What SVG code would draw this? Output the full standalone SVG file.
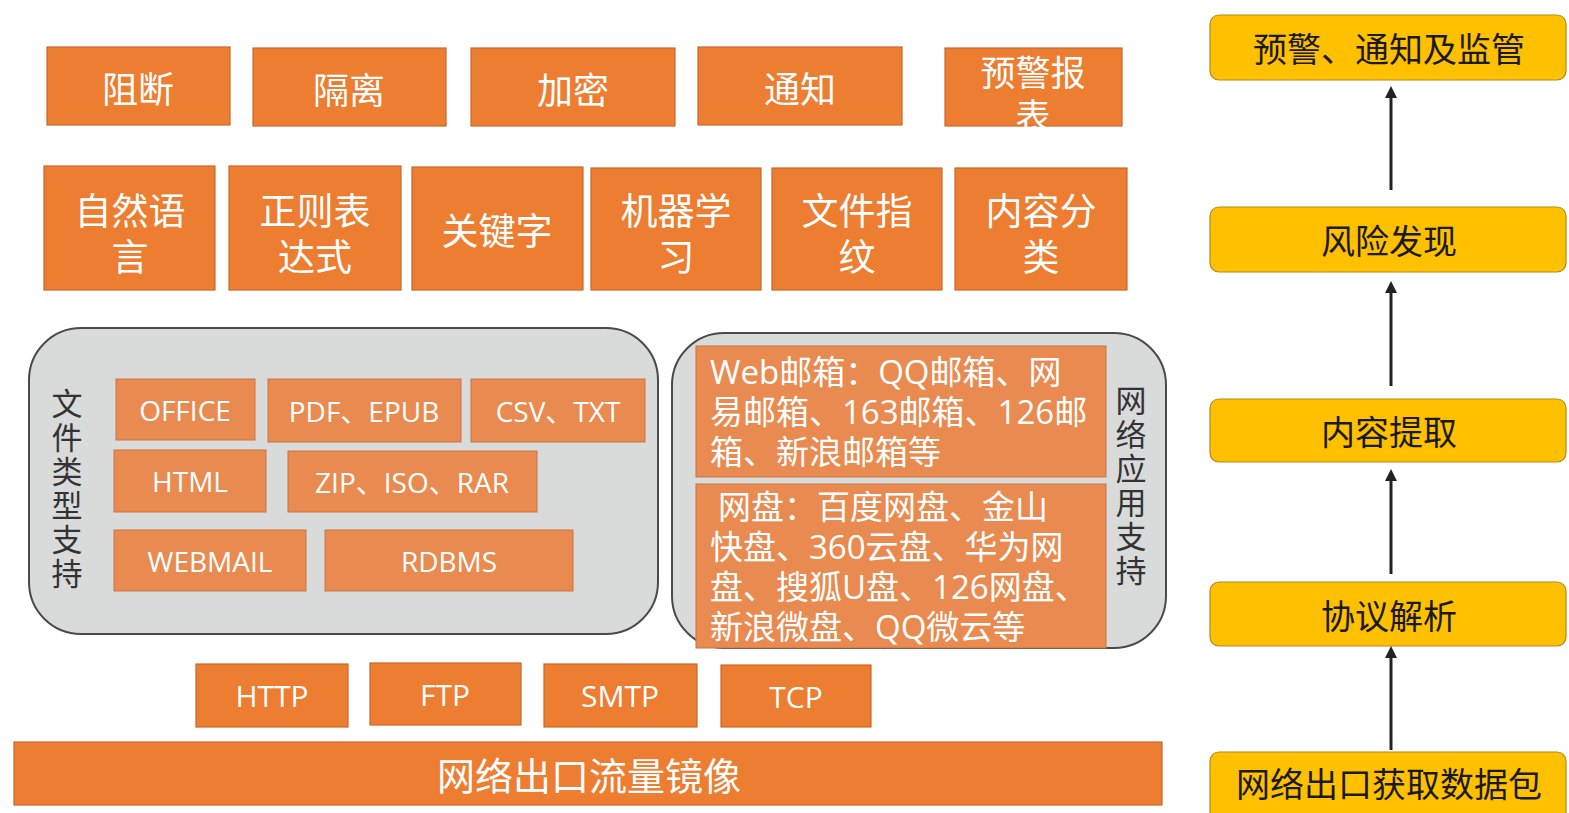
<svg xmlns="http://www.w3.org/2000/svg" width="1569" height="813" viewBox="0 0 1569 813">
<style>
.ob{fill:#ED7D31;stroke:#c9682a;stroke-width:1.2}
.lb{fill:#E98B50;stroke:#c97443;stroke-width:1}
.gc{fill:#D9DADA;stroke:#4a4a4a;stroke-width:2}
.yb{fill:#FFC000;stroke:#b08a1a;stroke-width:1.2}
.tw{fill:#fff;font-family:"Noto Sans CJK SC",sans-serif;text-anchor:middle;dominant-baseline:central}
.tl{fill:#fff;font-family:"Open Sans","Noto Sans CJK SC",sans-serif;text-anchor:middle;dominant-baseline:central}
.tm{fill:#fff;font-family:"Open Sans","Noto Sans CJK SC",sans-serif;font-size:33px}
.tv{fill:#333;font-family:"Noto Sans CJK SC",sans-serif;font-size:31px;writing-mode:vertical-rl;letter-spacing:3px}
.ty{fill:#1a1a1a;font-family:"Noto Sans CJK SC",sans-serif;font-size:34px;text-anchor:middle;dominant-baseline:central}
.cn{stroke:#222;stroke-width:3;fill:none;marker-end:url(#ah)}
</style>
<defs>
<marker id="ah" viewBox="0 0 10 10" refX="5" refY="5" markerWidth="4" markerHeight="4" orient="auto">
<path d="M0,0 L10,5 L0,10 z" fill="#222"/>
</marker>
</defs>
<rect width="1569" height="813" fill="#fff"/>

<g id="row1">
<g id="n-zuduan"><rect class="ob" x="47" y="47" width="183" height="78"/><text class="tw" x="138" y="87" font-size="36">阻断</text></g>
<g id="n-geli"><rect class="ob" x="253" y="48" width="193" height="78"/><text class="tw" x="349" y="88" font-size="36">隔离</text></g>
<g id="n-jiami"><rect class="ob" x="471" y="48" width="204" height="78"/><text class="tw" x="573" y="88" font-size="36">加密</text></g>
<g id="n-tongzhi"><rect class="ob" x="698" y="47" width="204" height="78"/><text class="tw" x="800" y="87" font-size="36">通知</text></g>
<g id="n-yujing"><rect class="ob" x="945" y="48" width="177" height="78"/><text class="tw" font-size="35"><tspan x="1033" y="70">预警报</tspan><tspan x="1033" y="113">表</tspan></text></g>
</g>

<g id="row2">
<g id="n-nlp"><rect class="ob" x="44" y="166" width="171" height="124"/><text class="tw" font-size="37"><tspan x="130" y="209">自然语</tspan><tspan x="130" y="255">言</tspan></text></g>
<g id="n-regex"><rect class="ob" x="229" y="166" width="172" height="124"/><text class="tw" font-size="37"><tspan x="315" y="209">正则表</tspan><tspan x="315" y="255">达式</tspan></text></g>
<g id="n-kw"><rect class="ob" x="412" y="167" width="171" height="123"/><text class="tw" x="497" y="229" font-size="37">关键字</text></g>
<g id="n-ml"><rect class="ob" x="591" y="168" width="170" height="122"/><text class="tw" font-size="37"><tspan x="676" y="209">机器学</tspan><tspan x="676" y="255">习</tspan></text></g>
<g id="n-fp"><rect class="ob" x="772" y="168" width="170" height="122"/><text class="tw" font-size="37"><tspan x="857" y="209">文件指</tspan><tspan x="857" y="255">纹</tspan></text></g>
<g id="n-cls"><rect class="ob" x="955" y="168" width="172" height="122"/><text class="tw" font-size="37"><tspan x="1041" y="209">内容分</tspan><tspan x="1041" y="255">类</tspan></text></g>
</g>

<g id="filetypes">
<rect class="gc" x="29" y="328" width="629" height="306" rx="52"/>
<text id="lbl-filetypes" class="tv" x="67" y="388">文件类型支持</text>
<g id="n-office"><rect class="lb" x="116" y="379" width="139" height="61"/><text class="tl" x="185" y="410" font-size="28">OFFICE</text></g>
<g id="n-pdf"><rect class="lb" x="268" y="379" width="193" height="63"/><text class="tl" x="364" y="411" font-size="28">PDF、EPUB</text></g>
<g id="n-csv"><rect class="lb" x="471" y="379" width="174" height="63"/><text class="tl" x="558" y="411" font-size="28">CSV、TXT</text></g>
<g id="n-html"><rect class="lb" x="114" y="450" width="152" height="62"/><text class="tl" x="190" y="481" font-size="28">HTML</text></g>
<g id="n-zip"><rect class="lb" x="288" y="451" width="249" height="61"/><text class="tl" x="412" y="482" font-size="28">ZIP、ISO、RAR</text></g>
<g id="n-webmail"><rect class="lb" x="114" y="530" width="192" height="61"/><text class="tl" x="210" y="561" font-size="28">WEBMAIL</text></g>
<g id="n-rdbms"><rect class="lb" x="325" y="530" width="248" height="61"/><text class="tl" x="449" y="561" font-size="28">RDBMS</text></g>
</g>

<g id="netapps">
<rect class="gc" x="672" y="333" width="494" height="315" rx="52"/>
<text id="lbl-netapps" class="tv" x="1131" y="385">网络应用支持</text>
<g id="n-webmailbox"><rect class="lb" x="696" y="346" width="410" height="131"/>
<text class="tm"><tspan x="710" y="384">Web邮箱：QQ邮箱、网</tspan><tspan x="710" y="424">易邮箱、163邮箱、126邮</tspan><tspan x="710" y="464">箱、新浪邮箱等</tspan></text></g>
<g id="n-netdisk"><rect class="lb" x="696" y="484" width="410" height="164"/>
<text class="tm"><tspan x="718" y="519">网盘：百度网盘、金山</tspan><tspan x="710" y="559">快盘、360云盘、华为网</tspan><tspan x="710" y="599">盘、搜狐U盘、126网盘、</tspan><tspan x="710" y="639">新浪微盘、QQ微云等</tspan></text></g>
</g>

<g id="protocols">
<g id="n-http"><rect class="ob" x="196" y="664" width="152" height="63"/><text class="tl" x="272" y="695" font-size="30">HTTP</text></g>
<g id="n-ftp"><rect class="ob" x="370" y="663" width="151" height="62"/><text class="tl" x="445" y="694" font-size="30">FTP</text></g>
<g id="n-smtp"><rect class="ob" x="544" y="664" width="153" height="63"/><text class="tl" x="620" y="695" font-size="30">SMTP</text></g>
<g id="n-tcp"><rect class="ob" x="721" y="665" width="150" height="62"/><text class="tl" x="796" y="696" font-size="30">TCP</text></g>
</g>

<g id="n-mirror"><rect class="ob" x="14" y="742" width="1148" height="63"/><text class="tw" x="589" y="773" font-size="38">网络出口流量镜像</text></g>

<g id="flow">
<g id="n-alert"><rect class="yb" x="1210" y="15" width="356" height="65" rx="9"/><text class="ty" x="1389" y="47">预警、通知及监管</text></g>
<g id="n-risk"><rect class="yb" x="1210" y="207" width="356" height="65" rx="9"/><text class="ty" x="1389" y="239">风险发现</text></g>
<g id="n-extract"><rect class="yb" x="1210" y="399" width="356" height="63" rx="9"/><text class="ty" x="1389" y="430">内容提取</text></g>
<g id="n-parse"><rect class="yb" x="1210" y="582" width="356" height="64" rx="9"/><text class="ty" x="1389" y="614">协议解析</text></g>
<g id="n-capture"><rect class="yb" x="1210" y="752" width="356" height="70" rx="9"/><text class="ty" x="1389" y="782">网络出口获取数据包</text></g>
</g>

<g id="connectors">
<line class="cn" x1="1391" y1="190" x2="1391" y2="92"/>
<line class="cn" x1="1391" y1="386" x2="1391" y2="287"/>
<line class="cn" x1="1391" y1="574" x2="1391" y2="475"/>
<line class="cn" x1="1391" y1="750" x2="1391" y2="652"/>
</g>
</svg>
